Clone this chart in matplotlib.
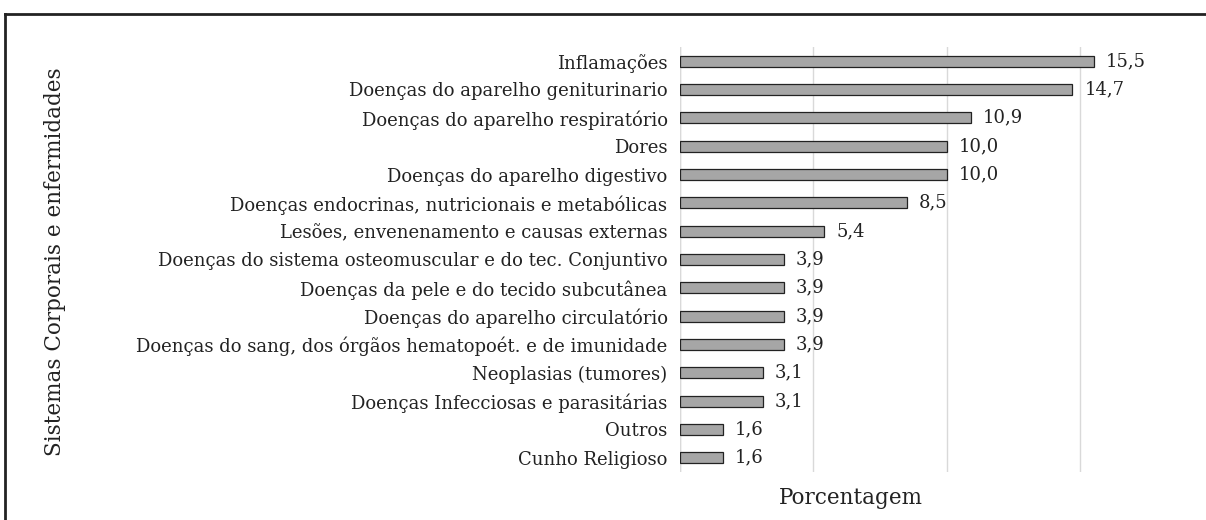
import matplotlib
matplotlib.use("Agg")
import matplotlib.pyplot as plt
from matplotlib.lines import Line2D

categories = [
    "Inflamações",
    "Doenças do aparelho geniturinario",
    "Doenças do aparelho respiratório",
    "Dores",
    "Doenças do aparelho digestivo",
    "Doenças endocrinas, nutricionais e metabólicas",
    "Lesões, envenenamento e causas externas",
    "Doenças do sistema osteomuscular e do tec. Conjuntivo",
    "Doenças da pele e do tecido subcutânea",
    "Doenças do aparelho circulatório",
    "Doenças do sang, dos órgãos hematopoét. e de imunidade",
    "Neoplasias (tumores)",
    "Doenças Infecciosas e parasitárias",
    "Outros",
    "Cunho Religioso",
]
values = [15.5, 14.7, 10.9, 10.0, 10.0, 8.5, 5.4, 3.9, 3.9, 3.9, 3.9, 3.1, 3.1, 1.6, 1.6]
value_labels = ["15,5", "14,7", "10,9", "10,0", "10,0", "8,5", "5,4", "3,9", "3,9", "3,9", "3,9", "3,1", "3,1", "1,6", "1,6"]
grid_ticks = [0, 5, 10, 15]

plt.rcParams["font.family"] = ["DejaVu Serif"]

fig = plt.figure(figsize=(12.06, 5.2), dpi=100)
W, H = 1206, 520
# axes in pixel terms: left 680, right 1147, top 47, bottom 472
ax = fig.add_axes([680 / W, 1 - 472 / H, (1147 - 680) / W, (472 - 47) / H])

ypos = list(range(len(categories)))
ax.barh(ypos, values, height=0.38, color="#a6a6a6", edgecolor="#222222", linewidth=0.9, zorder=3)
for y, v, lab in zip(ypos, values, value_labels):
    ax.text(v + 0.45, y, lab, va="center", ha="left", fontsize=13, color="#222222")

ax.set_ylim(len(categories) - 0.5, -0.5)
ax.set_xlim(0, 17.5)
ax.set_yticks(ypos)
ax.set_yticklabels(categories, fontsize=13, color="#222222")
ax.set_xticks(grid_ticks)
ax.set_xticklabels([])
ax.tick_params(axis="both", length=0, pad=9)
ax.grid(axis="x", color="#d9d9d9", linewidth=1, zorder=0)
for s in ax.spines.values():
    s.set_visible(False)
ax.axvline(0, color="#d9d9d9", linewidth=1, zorder=1)

fig.text(851 / W, 1 - 498 / H, "Porcentagem", ha="center", va="center", fontsize=15.5, color="#222222")
fig.text(55 / W, 1 - 262 / H, "Sistemas Corporais e enfermidades", rotation=90, ha="center", va="center", fontsize=15.5, color="#222222")

# outer frame (left and top edges visible)
fig.add_artist(Line2D([5 / W, 5 / W], [0, 1 - 14 / H], color="#222222", linewidth=2, transform=fig.transFigure))
fig.add_artist(Line2D([5 / W, 1], [1 - 14 / H, 1 - 14 / H], color="#222222", linewidth=2, transform=fig.transFigure))

fig.savefig("out.png", dpi=100)
